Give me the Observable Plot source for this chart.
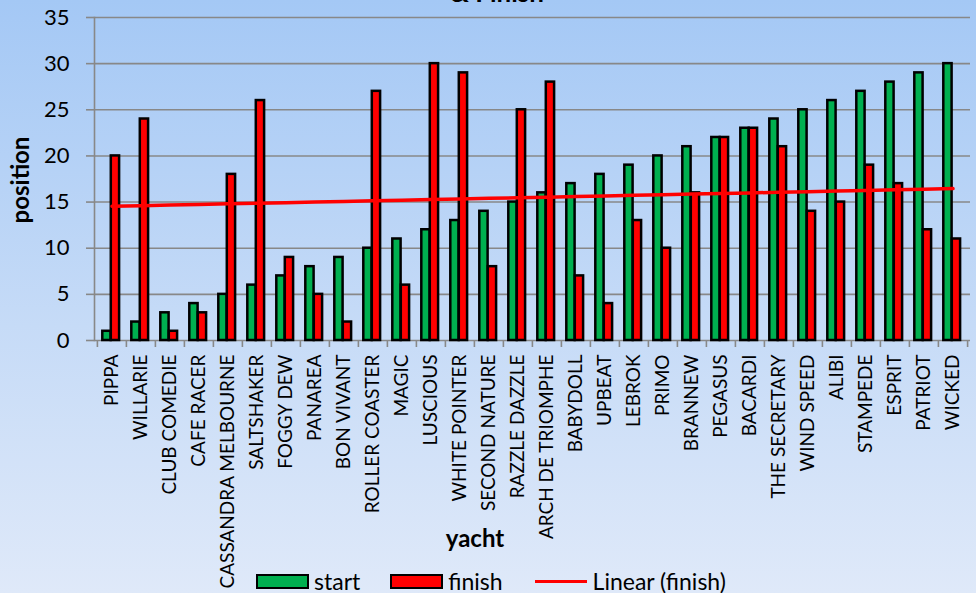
<!DOCTYPE html>
<html>
<head>
<meta charset="utf-8">
<script src="https://cdn.jsdelivr.net/npm/d3@7"></script>
<script src="https://cdn.jsdelivr.net/npm/@observablehq/plot@0.6"></script>
<style>
  html, body { margin: 0; padding: 0; }
  #chart { position: relative; width: 976px; height: 593px; overflow: hidden;
    background: linear-gradient(to bottom, #a4c8f5 0%, #c6dbf7 55%, #dfe9f9 100%);
    font-family: Lato, "Open Sans", sans-serif; color: #000; }
  #title { position: absolute; left: 0; width: 976px; top: -21px; line-height: 26px; text-align: center;
    font-weight: bold; font-size: 26px; padding-left: 18px; box-sizing: border-box; }
  #ylab { position: absolute; left: 19px; top: 180px; transform: translate(-50%, -50%) rotate(-90deg);
    font-weight: bold; font-size: 24px; white-space: nowrap; }
  #xlab { position: absolute; left: 475px; top: 537px; transform: translate(-50%, -50%);
    font-weight: bold; font-size: 24px; }
  #legend { position: absolute; left: 256px; top: 570px; height: 22px; line-height: 22px; display: flex; align-items: center;
    font-size: 23px; white-space: nowrap; }
  .sw { width: 49px; height: 11px; border: 2.5px solid #000; display: inline-block; margin-right: 5px; }
  .ln { width: 52px; height: 3px; background: #ff0000; display: inline-block; margin-right: 6px; }
  .item { display: flex; align-items: center; }
  svg { position: absolute; left: 0; top: 0; }
</style>
</head>
<body>
<div id="chart">
  <div id="title">&amp; Finish</div>
  <div id="ylab">position</div>
  <div id="xlab">yacht</div>
  <div id="legend">
    <span class="item" style="margin-right:30px"><span class="sw" style="background:#00b050"></span>start</span>
    <span class="item" style="margin-right:32px"><span class="sw" style="background:#ff0000"></span>finish</span>
    <span class="item"><span class="ln"></span>Linear (finish)</span>
  </div>
</div>
<script>
const yachts = ["PIPPA","WILLARIE","CLUB COMEDIE","CAFE RACER","CASSANDRA MELBOURNE","SALTSHAKER","FOGGY DEW","PANAREA","BON VIVANT","ROLLER COASTER","MAGIC","LUSCIOUS","WHITE POINTER","SECOND NATURE","RAZZLE DAZZLE","ARCH DE TRIOMPHE","BABYDOLL","UPBEAT","LEBROK","PRIMO","BRANNEW","PEGASUS","BACARDI","THE SECRETARY","WIND SPEED","ALIBI","STAMPEDE","ESPRIT","PATRIOT","WICKED"];
const startPos = [1,2,3,4,5,6,7,8,9,10,11,12,13,14,15,16,17,18,19,20,21,22,23,24,25,26,27,28,29,30];
const finishPos = [20,24,1,3,18,26,9,5,2,27,6,30,29,8,25,28,7,4,13,10,16,22,23,21,14,15,19,17,12,11];
const yTicks = [0,5,10,15,20,25,30,35];

const rows = yachts.map((y, i) => ({yacht: y, start: startPos[i], finish: finishPos[i]}));

// linear trend of finish against category index (1..n)
const xs = finishPos.map((_, i) => i + 1);
const mx = d3.mean(xs), my = d3.mean(finishPos);
const slope = d3.sum(xs.map((x, i) => (x - mx) * (finishPos[i] - my))) / d3.sum(xs.map(x => (x - mx) ** 2));
const intercept = my - slope * mx;
const trend = yachts.map((y, i) => ({yacht: y, value: intercept + slope * (i + 1)}));

const W = 976, ML = 94, MR = 6;
const bw = (W - ML - MR) / yachts.length;

const plot = Plot.plot({
  width: W,
  height: 565,
  marginTop: 17,
  marginLeft: ML,
  marginRight: MR,
  marginBottom: 225,
  style: {background: "transparent", fontFamily: "Lato, 'Open Sans', sans-serif", color: "#000", overflow: "visible"},
  x: {domain: yachts, padding: 0, label: null},
  y: {domain: [0, 35], label: null},
  marks: [
    Plot.ruleY(yTicks, {stroke: "#888", strokeWidth: 1.6}),
    Plot.frame({anchor: "left", stroke: "#888", strokeWidth: 1.6}),
    Plot.axisY({ticks: yTicks, tickSize: 8, tickPadding: 17, stroke: "#888", strokeWidth: 1.6, fontSize: 22, label: null, fill: "#000"}),
    Plot.barY(rows, {x: "yacht", y: "start", fill: "#00b050", stroke: "#000", strokeWidth: 2.5, insetLeft: 5.3, insetRight: bw - 5.3 - 8.5}),
    Plot.barY(rows, {x: "yacht", y: "finish", fill: "#ff0000", stroke: "#000", strokeWidth: 2.5, insetLeft: 13.8, insetRight: bw - 13.8 - 8.5}),
    Plot.line(trend, {x: "yacht", y: "value", stroke: "#ff0000", strokeWidth: 3.5}),
    Plot.axisX({tickSize: 0, tickPadding: 14, tickRotate: -90, fontSize: 19, label: null, fill: "#000"}),
    Plot.axisX({tickSize: 7, tickFormat: () => "", dx: -bw / 2, stroke: "#888", strokeWidth: 1.6, label: null}),
    Plot.axisX({ticks: [yachts[yachts.length - 1]], tickSize: 7, tickFormat: () => "", dx: bw / 2, stroke: "#888", strokeWidth: 1.6, label: null})
  ]
});
document.getElementById("chart").insertBefore(plot, document.getElementById("title"));
</script>
</body>
</html>
